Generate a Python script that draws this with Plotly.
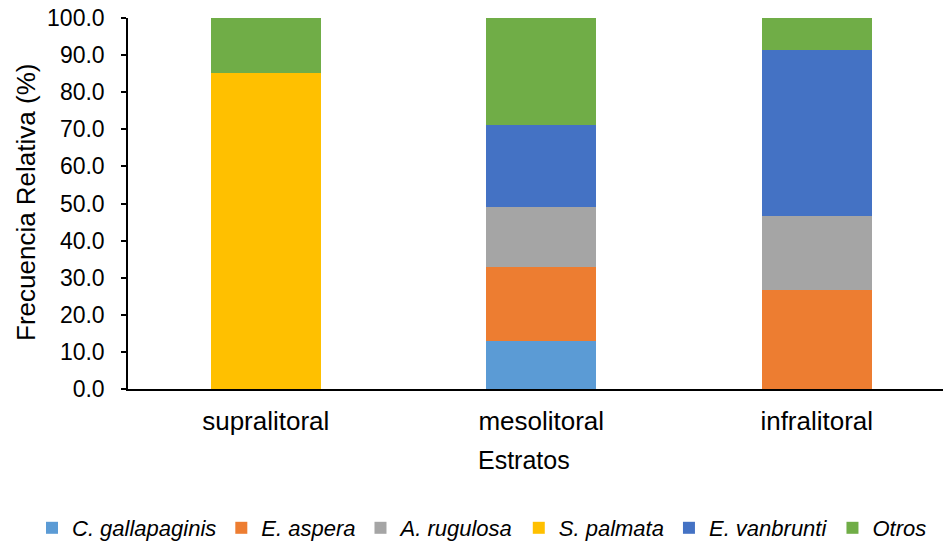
import plotly.graph_objects as go

categories = ["supralitoral", "mesolitoral", "infralitoral"]
series_names = ["C. gallapaginis", "E. aspera", "A. rugulosa", "S. palmata", "E. vanbrunti", "Otros"]
c_gallapaginis = [0.0, 12.9, 0.0]
e_aspera = [0.0, 20.0, 26.7]
a_rugulosa = [0.0, 16.2, 19.8]
s_palmata = [85.2, 0.0, 0.0]
e_vanbrunti = [0.0, 22.1, 45.0]
otros = [14.8, 28.8, 8.5]
y_ticks = [0, 10, 20, 30, 40, 50, 60, 70, 80, 90, 100]

values = [c_gallapaginis, e_aspera, a_rugulosa, s_palmata, e_vanbrunti, otros]
colors = ["#5B9BD5", "#ED7D31", "#A5A5A5", "#FFC000", "#4472C4", "#70AD47"]

FONT = "Liberation Sans, Arial, sans-serif"

fig = go.Figure()
for name, vals, col in zip(series_names, values, colors):
    fig.add_trace(go.Bar(
        x=categories, y=vals, name="<i>%s</i>" % name,
        marker=dict(color=col, line=dict(width=0)),
        width=0.4,
    ))

W, H = 943, 542
L, R, T, B = 128, 0, 18, 153
plot_w = W - L - R
plot_h = H - T - B
px_per_cat = 275.5

fig.update_layout(
    width=W, height=H,
    barmode="stack",
    margin=dict(l=L, r=R, t=T, b=B, pad=0, autoexpand=False),
    paper_bgcolor="white", plot_bgcolor="white",
    font=dict(family=FONT, color="#000000"),
    showlegend=True,
    legend=dict(
        orientation="h", xref="paper", yref="paper",
        x=(32 - L) / plot_w, xanchor="left",
        y=-(528 - (H - B)) / plot_h, yanchor="middle",
        font=dict(size=22, family=FONT, color="#000000"),
        itemwidth=30, traceorder="normal",
        bgcolor="rgba(0,0,0,0)",
    ),
    xaxis=dict(
        type="category",
        range=[-0.5, -0.5 + plot_w / px_per_cat],
        showline=True, linecolor="#000000", linewidth=1.5,
        ticks="", showgrid=False,
        tickfont=dict(size=26, family=FONT, color="#000000"),
        ticklabelstandoff=8,
    ),
    yaxis=dict(
        range=[0, 100], tickvals=y_ticks, tickformat=".1f",
        showline=True, linecolor="#000000", linewidth=1.5,
        ticks="outside", ticklen=5, tickcolor="#000000", tickwidth=1.5,
        showgrid=False, zeroline=False,
        tickfont=dict(size=23, family=FONT, color="#000000"),
        ticklabelstandoff=12,
    ),
    annotations=[
        dict(text="Estratos", xref="paper", yref="paper",
             x=(524 - L) / plot_w, y=-(460 - (H - B)) / plot_h,
             xanchor="center", yanchor="middle", showarrow=False,
             font=dict(size=25, family=FONT, color="#000000")),
        dict(text="Frecuencia Relativa (%)", xref="paper", yref="paper",
             x=(26 - L) / plot_w, y=(389 - 203) / plot_h,
             xanchor="center", yanchor="middle", textangle=-90, showarrow=False,
             font=dict(size=26, family=FONT, color="#000000")),
    ],
)

fig.write_html("out.html", config={"displayModeBar": False},
               post_script="document.body.style.margin='0';document.body.style.overflow='hidden';")
